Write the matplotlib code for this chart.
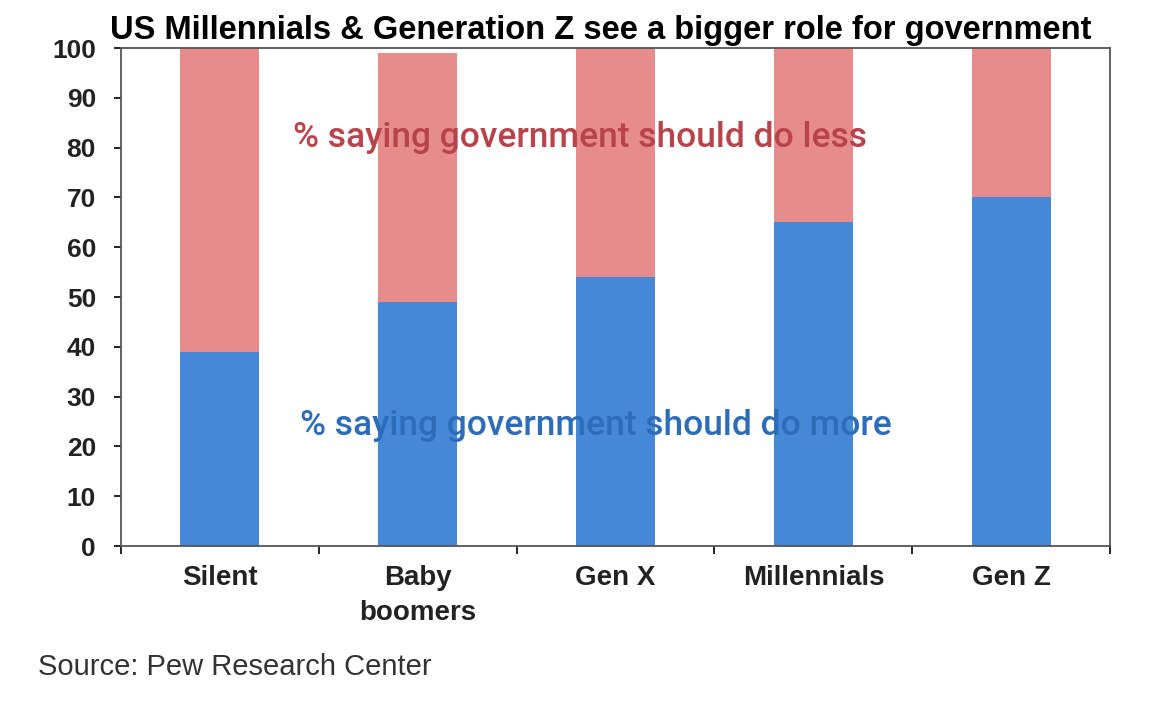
import numpy as np
from matplotlib import pyplot as plt

plt.rcParams['font.family'] = ['Liberation Sans', 'DejaVu Sans']

generations = ['Silent', 'Baby\nboomers', 'Gen X', 'Millennials', 'Gen Z']
do_more = [39, 49, 54, 65, 70]
do_less = [61, 50, 46, 35, 30]

blue = '#4688d8'
pink = '#e68c8c'

fig = plt.figure(figsize=(11.6, 7.04), dpi=100)
ax = fig.add_axes([0.1043, 0.2244, 0.8527, 0.7074])

x = np.arange(len(generations))
ax.bar(x, do_more, width=0.4, color=blue)
ax.bar(x, do_less, width=0.4, bottom=do_more, color=pink)

ax.set_xlim(-0.5, len(generations) - 0.5)
ax.set_ylim(0, 100)
ax.set_yticks(range(0, 101, 10))
ax.tick_params(axis='y', labelsize=19, length=5, width=1.2, direction='out', pad=13)
for lab in ax.get_yticklabels():
    lab.set_fontweight('bold')
    lab.set_color('#222222')

# category labels centred, ticks at the boundaries
ax.set_xticks(x)
ax.set_xticklabels(generations, fontsize=20, fontweight='bold', linespacing=1.45,
                   va='top', color='#222222')
ax.tick_params(axis='x', length=0, pad=14)
ax.set_xticks(np.arange(-0.5, len(generations)), minor=True)
ax.tick_params(axis='x', which='minor', length=6, width=1.2, direction='out')

for s in ax.spines.values():
    s.set_color('#555555')
    s.set_linewidth(1.3)

ax.text(1.82, 82, '% saying government should do less', color='#b8434a',
        fontsize=25.5, fontweight='medium', family=['Roboto', 'Liberation Sans'],
        ha='center', va='center')
ax.text(1.90, 24.3, '% saying government should do more', color='#2c6cb8',
        fontsize=25.5, fontweight='medium', family=['Roboto', 'Liberation Sans'],
        ha='center', va='center')

fig.text(0.518, 0.957, 'US Millennials & Generation Z see a bigger role for government',
         fontsize=23.5, fontweight='bold', ha='center', va='center')
fig.text(0.033, 0.053, 'Source: Pew Research Center', fontsize=21, color='#333333',
         ha='left', va='center')

plt.savefig('out.png')
